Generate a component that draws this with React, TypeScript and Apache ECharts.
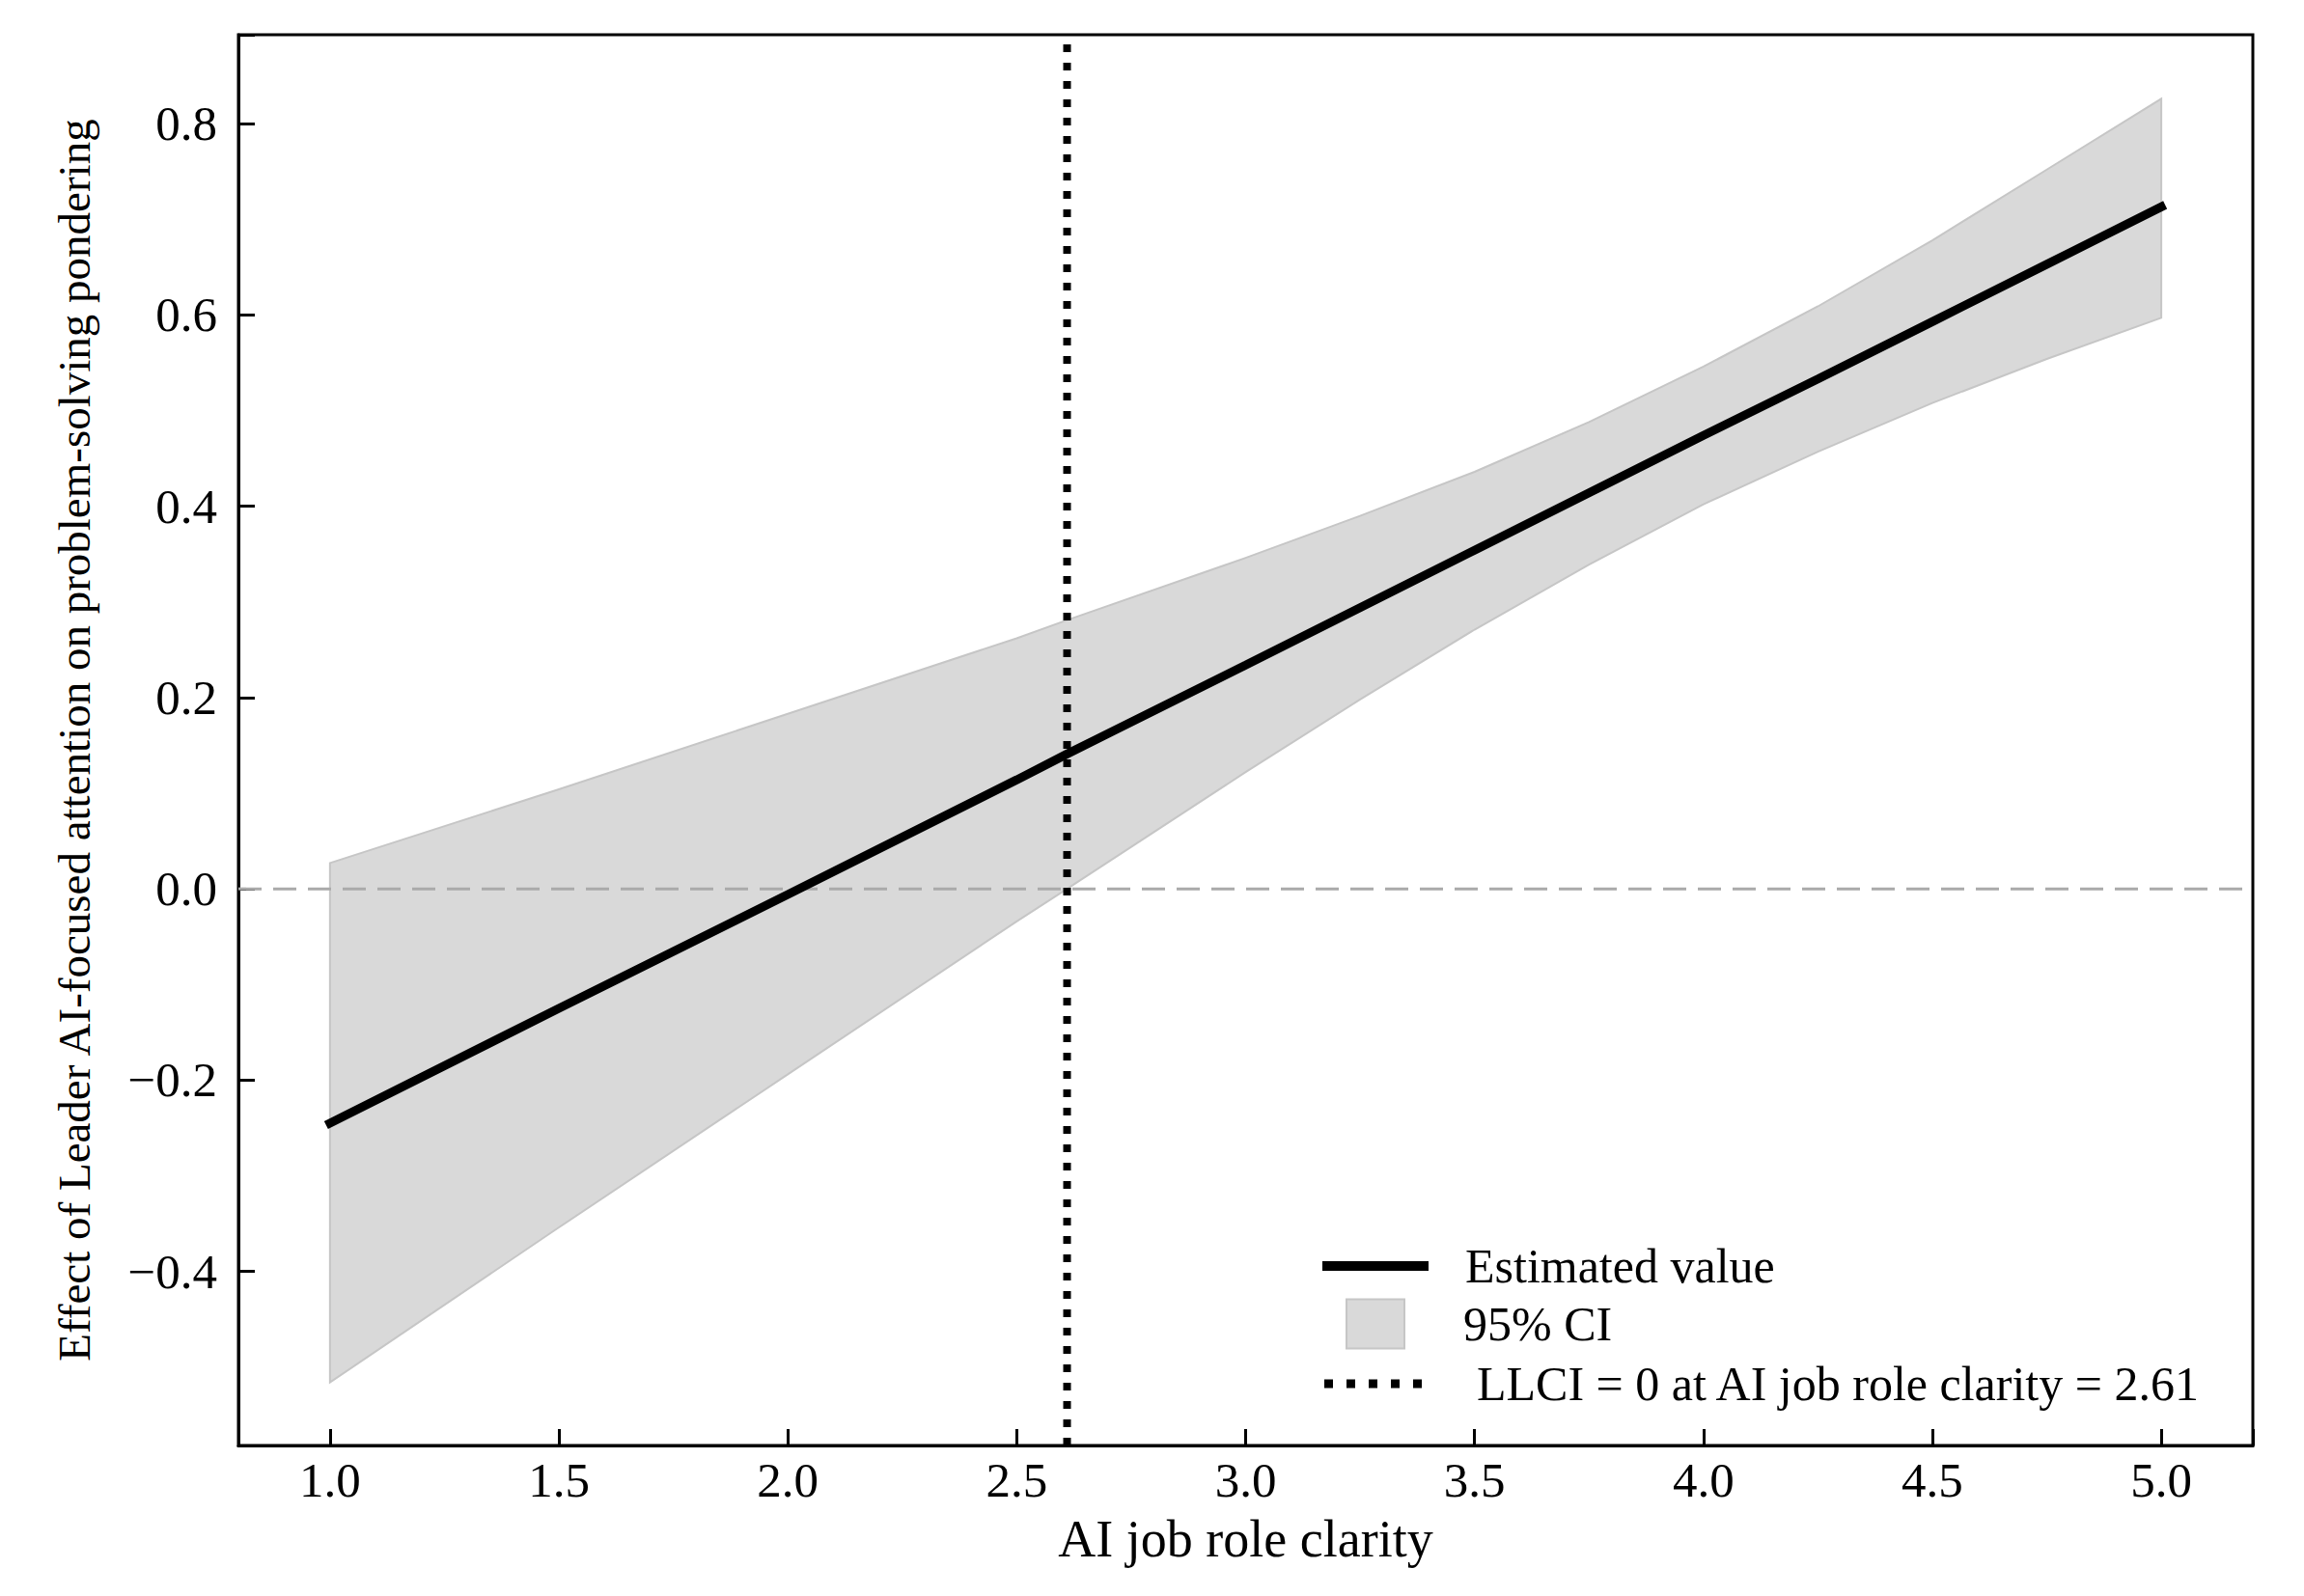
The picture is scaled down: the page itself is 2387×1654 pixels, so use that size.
import React, { useEffect, useRef } from "react";
import * as echarts from "echarts";

// ---- data ----
const xValues = [1.0, 1.5, 2.0, 2.5, 2.61, 3.0, 3.25, 3.5, 3.75, 4.0, 4.25, 4.5, 4.75, 5.0];
const estimate = [-0.245, -0.125, -0.006, 0.114, 0.141, 0.234, 0.294, 0.354, 0.414, 0.474, 0.533, 0.593, 0.653, 0.713];
const ciLower = [-0.516, -0.354, -0.194, -0.034, 0.0, 0.122, 0.198, 0.271, 0.339, 0.402, 0.457, 0.508, 0.554, 0.597];
const ciUpper = [0.027, 0.104, 0.183, 0.262, 0.281, 0.346, 0.39, 0.436, 0.488, 0.546, 0.609, 0.678, 0.752, 0.826];
const jnPoint = 2.61;

const xAxisRange = [0.8, 5.2];
const yAxisRange = [-0.582, 0.893];

const seriesNames = ["Estimated value", "95% CI", "LLCI = 0 at AI job role clarity = 2.61"];
const xAxisTitle = "AI job role clarity";
const yAxisTitle = "Effect of Leader AI-focused attention on problem-solving pondering";

const FONT = '"Liberation Serif", "Times New Roman", serif';

const solidIcon = "path://M0,0H110V10H0Z";
const dottedIcon =
  "path://M0,0h9v9h-9z M23,0h9v9h-9z M46,0h9v9h-9z M69,0h9v9h-9z M92,0h9v9h-9z";

function fmtTick(step: number) {
  return (v: number) => {
    const k = v / step;
    if (Math.abs(k - Math.round(k)) > 1e-6) return "";
    const s = Math.abs(v).toFixed(1);
    return v < -1e-9 ? "\u2212" + s : s;
  };
}

export default function App() {
  const ref = useRef<HTMLDivElement>(null);
  useEffect(() => {
    if (!ref.current) return;
    const chart = echarts.init(ref.current, null, { renderer: "svg" });
    const legendText = { fontSize: 50, color: "#000", fontFamily: FONT, lineHeight: 56 };
    const option: any = {
      animation: false,
      backgroundColor: "#fff",
      grid: {
        left: 247,
        top: 36,
        width: 2087,
        height: 1462,
        show: true,
        borderColor: "#000",
        borderWidth: 3,
        backgroundColor: "transparent",
      },
      xAxis: {
        type: "value",
        min: xAxisRange[0],
        max: xAxisRange[1],
        splitNumber: 8,
        minInterval: 0.5,
        maxInterval: 0.5,
        axisLine: { show: true, onZero: false, lineStyle: { color: "#000", width: 3 } },
        axisTick: { show: true, inside: true, length: 17, lineStyle: { color: "#000", width: 3 } },
        axisLabel: { formatter: fmtTick(0.5), margin: 10, fontSize: 51, color: "#000", fontFamily: FONT },
        splitLine: { show: false },
        name: xAxisTitle,
        nameLocation: "middle",
        nameGap: 70,
        nameTextStyle: { fontSize: 54, color: "#000", fontFamily: FONT },
      },
      yAxis: {
        type: "value",
        min: yAxisRange[0],
        max: yAxisRange[1],
        splitNumber: 7,
        minInterval: 0.2,
        maxInterval: 0.2,
        axisLine: { show: true, onZero: false, lineStyle: { color: "#000", width: 3 } },
        axisTick: { show: true, inside: true, length: 17, lineStyle: { color: "#000", width: 3 } },
        axisLabel: { formatter: fmtTick(0.2), margin: 22, fontSize: 51, color: "#000", fontFamily: FONT },
        splitLine: { show: false },
        name: yAxisTitle,
        nameLocation: "middle",
        nameGap: 147,
        nameTextStyle: { fontSize: 47, color: "#000", fontFamily: FONT },
      },
      legend: [
        {
          data: [{ name: seriesNames[0], icon: solidIcon }],
          left: 1370,
          top: 1284,
          padding: 0,
          itemWidth: 110,
          itemHeight: 20,
          selectedMode: false,
          itemStyle: { color: "#000", borderWidth: 0 },
          textStyle: { ...legendText, padding: [0, 0, 0, 33] },
        },
        {
          data: [{ name: seriesNames[1], icon: "rect" }],
          left: 1394,
          top: 1344,
          padding: 0,
          itemWidth: 60,
          itemHeight: 51,
          selectedMode: false,
          itemStyle: { color: "#d9d9d9", borderColor: "#c6c6c6", borderWidth: 2 },
          textStyle: { ...legendText, padding: [0, 0, 0, 56] },
        },
        {
          data: [{ name: seriesNames[2], icon: dottedIcon }],
          left: 1372,
          top: 1406,
          padding: 0,
          itemWidth: 101,
          itemHeight: 20,
          selectedMode: false,
          itemStyle: { color: "#000", borderWidth: 0 },
          textStyle: { ...legendText, padding: [0, 0, 0, 52] },
        },
      ],
      series: [
        {
          name: seriesNames[1],
          type: "custom",
          z: 1,
          silent: true,
          itemStyle: { color: "#d9d9d9", borderColor: "#c6c6c6", borderWidth: 2 },
          data: xValues.map((x, i) => [x, ciLower[i], ciUpper[i]]),
          encode: { x: 0, y: [1, 2] },
          renderItem: (params: any, api: any) => {
            if (params.dataIndex !== 0) return null;
            const pts: number[][] = [];
            for (let i = 0; i < xValues.length; i++) pts.push(api.coord([xValues[i], ciUpper[i]]));
            for (let i = xValues.length - 1; i >= 0; i--) pts.push(api.coord([xValues[i], ciLower[i]]));
            return {
              type: "polygon",
              shape: { points: pts },
              style: { fill: "#d9d9d9", stroke: "#c6c6c6", lineWidth: 2 },
            };
          },
        },
        {
          name: "zero",
          type: "line",
          z: 2,
          silent: true,
          symbol: "none",
          data: [
            [xAxisRange[0], 0],
            [xAxisRange[1], 0],
          ],
          lineStyle: { color: "#aaaaaa", width: 3, type: [24, 12] },
        },
        {
          name: seriesNames[0],
          type: "line",
          z: 3,
          silent: true,
          symbol: "none",
          data: xValues.map((x, i) => [x, estimate[i]]),
          itemStyle: { color: "#000" },
          lineStyle: { color: "#000", width: 9, cap: "square" },
        },
        {
          name: seriesNames[2],
          type: "line",
          z: 4,
          silent: true,
          symbol: "none",
          data: [
            [jnPoint, yAxisRange[0]],
            [jnPoint, yAxisRange[1]],
          ],
          itemStyle: { color: "#000" },
          lineStyle: { color: "#000", width: 8, type: [8, 11], cap: "butt" },
        },
      ],
    };
    chart.setOption(option);
    return () => chart.dispose();
  }, []);
  return (
    <div
      ref={ref}
      style={{ position: "absolute", left: 0, top: 0, width: 2387, height: 1654, background: "#fff" }}
    />
  );
}
